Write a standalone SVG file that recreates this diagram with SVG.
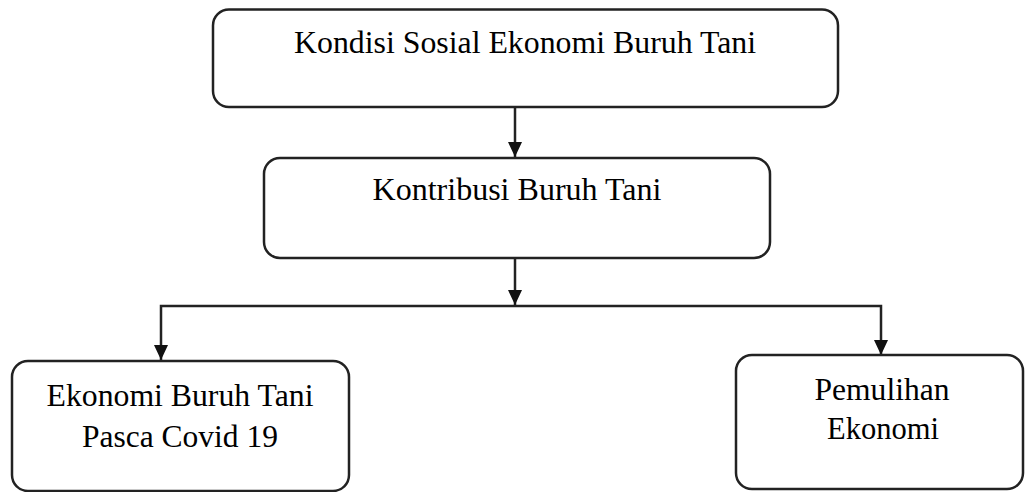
<svg xmlns="http://www.w3.org/2000/svg" width="1025" height="492" viewBox="0 0 1025 492">
<style>
.box{fill:#fff;stroke:#222;stroke-width:2.5}
.lbl{font-family:"Liberation Serif","Times New Roman",serif;font-size:31px;fill:#000;text-anchor:middle}
.con{fill:none;stroke:#222;stroke-width:2.5;stroke-linejoin:miter}
</style>
<defs>
<marker id="arr" markerUnits="userSpaceOnUse" markerWidth="15" markerHeight="16" refX="15" refY="7" orient="auto" viewBox="0 0 15 14">
<path d="M0,0 L15,7 L0,14 Z" fill="#111"/>
</marker>
</defs>
<rect width="1025" height="492" fill="#fff"/>
<g id="connectors">
<path class="con" d="M515,107 V157" marker-end="url(#arr)"/>
<path class="con" d="M515,258 V305" marker-end="url(#arr)"/>
<path class="con" d="M515,306 H161 V360" marker-end="url(#arr)"/>
<path class="con" d="M515,306 H881 V355" marker-end="url(#arr)"/>
</g>
<g id="node1">
<rect class="box" x="213" y="9.5" width="625" height="97.5" rx="16"/>
<text class="lbl" x="525" y="53" textLength="462" lengthAdjust="spacingAndGlyphs">Kondisi Sosial Ekonomi Buruh Tani</text>
</g>
<g id="node2">
<rect class="box" x="264" y="158" width="506" height="100" rx="16"/>
<text class="lbl" x="517" y="200" textLength="289" lengthAdjust="spacingAndGlyphs">Kontribusi Buruh Tani</text>
</g>
<g id="node3">
<rect class="box" x="12" y="361" width="337" height="130" rx="16"/>
<text class="lbl" x="180" y="406" textLength="267" lengthAdjust="spacingAndGlyphs">Ekonomi Buruh Tani</text>
<text class="lbl" x="180" y="447" textLength="196" lengthAdjust="spacingAndGlyphs">Pasca Covid 19</text>
</g>
<g id="node4">
<rect class="box" x="736" y="355" width="287" height="134" rx="16"/>
<text class="lbl" x="882" y="400" textLength="135" lengthAdjust="spacingAndGlyphs">Pemulihan</text>
<text class="lbl" x="883" y="439" textLength="112" lengthAdjust="spacingAndGlyphs">Ekonomi</text>
</g>
</svg>
